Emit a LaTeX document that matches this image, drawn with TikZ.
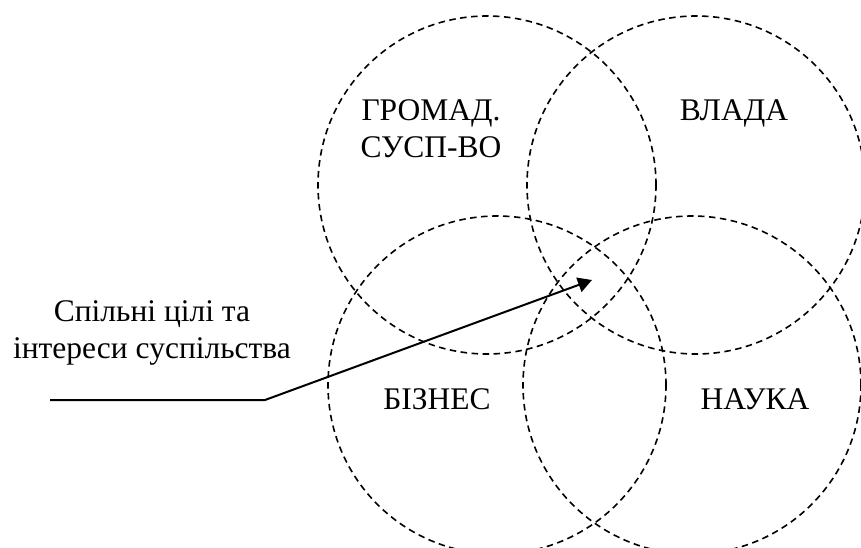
\documentclass[tikz,border=0pt]{standalone}
\usepackage{fontspec}
\setmainfont{Liberation Serif}
\usetikzlibrary{arrows.meta}
\begin{document}
\begin{tikzpicture}[x=1pt,y=-1pt,
  sphere/.style={circle,draw,line width=1.6pt,dash pattern=on 6.5pt off 4.5pt,minimum size=338pt,inner sep=0pt},
  lbl/.style={inner sep=0pt,font=\fontsize{31.5}{37}\selectfont,align=center},
  pointer/.style={line width=2pt,-{Triangle[length=14pt,width=15pt]}}]
\useasboundingbox (0,0) rectangle (861,548);
\clip (0,0) rectangle (861,548);
\node[sphere] (civ) at (487,185) {};
\node[sphere] (gov) at (696,185) {};
\node[sphere] (bus) at (497,385) {};
\node[sphere] (sci) at (692,385) {};
\node[lbl] (tciv) at (431,129) {ГРОМАД.\\СУСП-ВО};
\node[lbl,anchor=base] (tgov) at (734,121) {ВЛАДА};
\node[lbl,anchor=base] (tbus) at (437,409) {БІЗНЕС};
\node[lbl,anchor=base] (tsci) at (755,409) {НАУКА};
\node[lbl] (tcommon) at (152,333) {Спільні цілі та\\інтереси суспільства};
\coordinate (s) at (50,400);
\coordinate (k) at (265,400);
\coordinate (tip) at (592,280);
\draw[pointer] (s) -- (k) -- (tip);
\end{tikzpicture}
\end{document}
